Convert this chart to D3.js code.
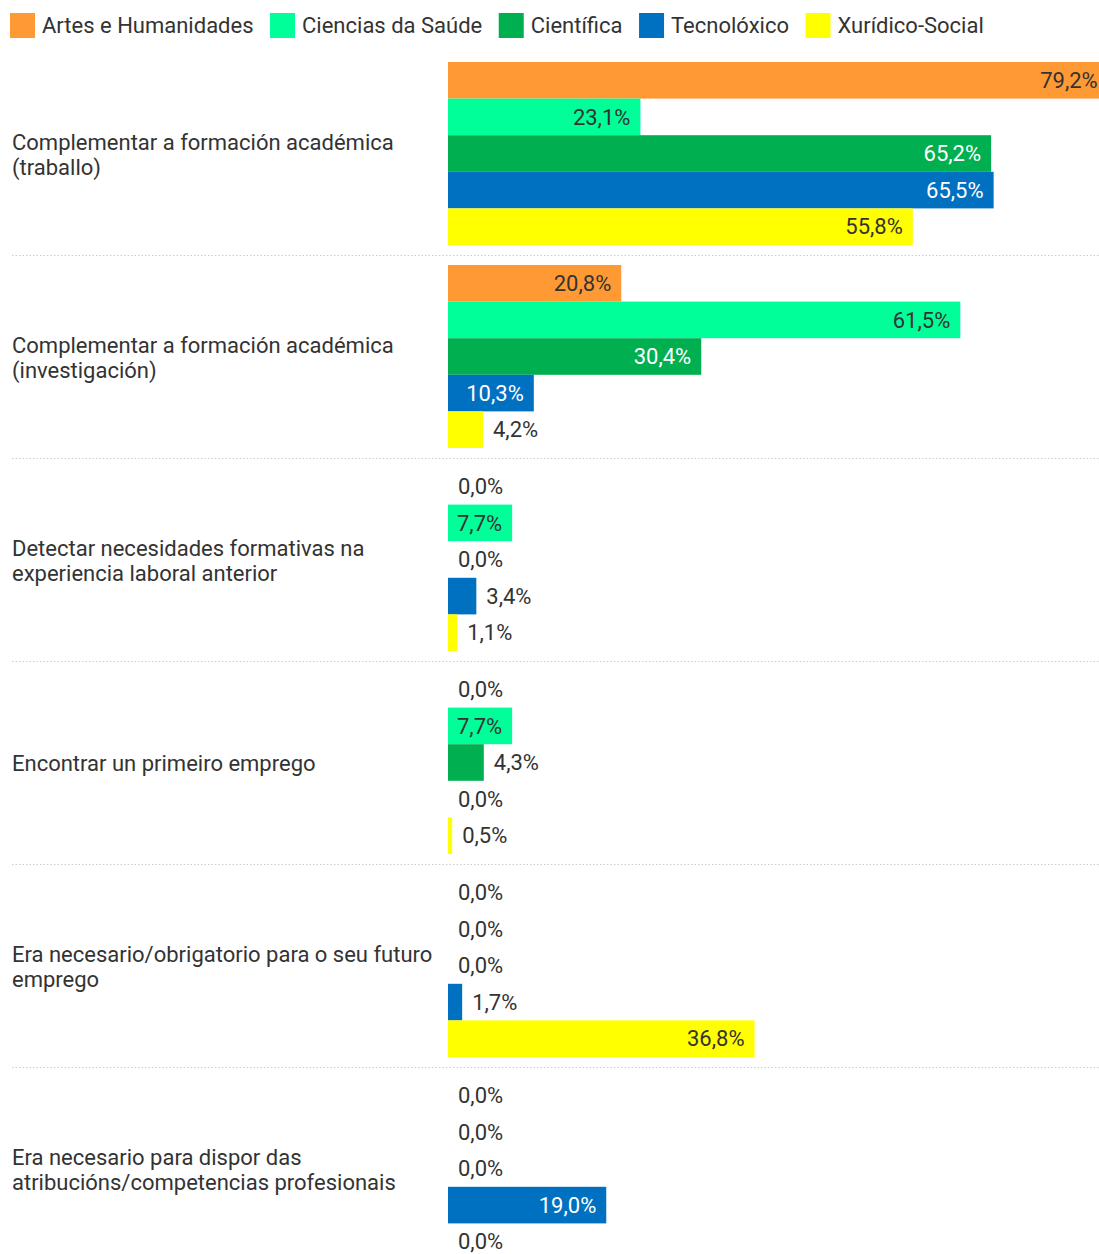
<!DOCTYPE html>
<html>
<head>
<meta charset="utf-8">
<script src="https://d3js.org/d3.v7.min.js"></script>
<style>
  html, body { margin: 0; padding: 0; background: #fff; }
  body { font-family: Roboto, "Noto Sans", sans-serif; }
  svg { display: block; }
</style>
</head>
<body>
<div id="chart"></div>
<script>
// categories (rows) and series (colours)
var categories = [
  "Complementar a formación académica (traballo)",
  "Complementar a formación académica (investigación)",
  "Detectar necesidades formativas na experiencia laboral anterior",
  "Encontrar un primeiro emprego",
  "Era necesario/obrigatorio para o seu futuro emprego",
  "Era necesario para dispor das atribucións/competencias profesionais"
];
var seriesNames = ["Artes e Humanidades", "Ciencias da Saúde", "Científica", "Tecnolóxico", "Xurídico-Social"];
var seriesColors = ["#ff9933", "#00ff99", "#00b050", "#0070c0", "#ffff00"];
var labelColors = ["#333333", "#333333", "#ffffff", "#ffffff", "#333333"];

// values in %, one array per series, same order as categories
var artes      = [79.2, 20.8, 0.0, 0.0, 0.0, 0.0];
var saude      = [23.1, 61.5, 7.7, 7.7, 0.0, 0.0];
var cientifica = [65.2, 30.4, 0.0, 4.3, 0.0, 0.0];
var tecno      = [65.5, 10.3, 3.4, 0.0, 1.7, 19.0];
var xuridico   = [55.8, 4.2, 1.1, 0.5, 36.8, 0.0];
var seriesValues = [artes, saude, cientifica, tecno, xuridico];

var W = 1099, H = 1254;
var top0 = 62, groupStep = 203, groupInner = 183;
var barX0 = 448;
var fs = "22px";

var svg = d3.select("#chart").append("svg")
  .attr("width", W)
  .attr("height", H);

var fmt = function(v) { return v.toFixed(1).replace(".", ",") + "%"; };

// scales
var x = d3.scaleLinear().domain([0, 100]).range([barX0, barX0 + 833]);
var yGroup = d3.scaleBand()
  .domain(categories)
  .range([top0, top0 + groupStep * categories.length])
  .paddingInner(0).paddingOuter(0);
var ySeries = d3.scaleBand().domain(seriesNames).range([0, groupInner]);

// legend
var legend = svg.append("g").attr("class", "legend");
var lx = 10;
seriesNames.forEach(function(name, i) {
  var item = legend.append("g").attr("transform", "translate(" + lx + ",0)");
  item.append("rect")
    .attr("x", 0).attr("y", 13)
    .attr("width", 25).attr("height", 25)
    .attr("fill", seriesColors[i]);
  var t = item.append("text")
    .attr("x", 32).attr("y", 25)
    .attr("dy", "0.35em")
    .style("font-size", fs)
    .attr("fill", "#333")
    .text(name);
  lx += 32 + t.node().getComputedTextLength() + 16.5;
});

// groups
var groups = svg.selectAll("g.group")
  .data(categories)
  .enter().append("g")
    .attr("class", "group")
    .attr("transform", function(d) { return "translate(0," + yGroup(d) + ")"; });

// separators between groups
groups.filter(function(d, i) { return i < categories.length - 1; })
  .append("line")
    .attr("x1", 12).attr("x2", W)
    .attr("y1", groupInner + 10.5).attr("y2", groupInner + 10.5)
    .attr("stroke", "#cccccc")
    .attr("stroke-width", 1)
    .attr("stroke-dasharray", "1.5,2");

// category labels with wrapping
groups.each(function(d) {
  var g = d3.select(this);
  var words = d.split(" ");
  var lines = [], line = [];
  var tmp = g.append("text").style("font-size", fs);
  words.forEach(function(w) {
    var test = line.concat([w]).join(" ");
    tmp.text(test);
    if (tmp.node().getComputedTextLength() > 425 && line.length) {
      lines.push(line.join(" "));
      line = [w];
    } else {
      line.push(w);
    }
  });
  lines.push(line.join(" "));
  tmp.remove();
  var lh = 25;
  var cy = groupInner / 2 - (lines.length - 1) * lh / 2 + 1;
  var t = g.append("text")
    .attr("fill", "#333")
    .style("font-size", fs);
  lines.forEach(function(l, k) {
    t.append("tspan")
      .attr("x", 12)
      .attr("y", cy + k * lh)
      .attr("dy", "0.35em")
      .text(l);
  });
});

// bars + value labels
groups.each(function(cat, ci) {
  var g = d3.select(this);
  var rows = seriesNames.map(function(s, si) {
    return { series: s, si: si, value: seriesValues[si][ci] };
  });
  g.selectAll("rect.bar")
    .data(rows)
    .enter().append("rect")
      .attr("class", "bar")
      .attr("x", x(0))
      .attr("y", function(d) { return ySeries(d.series); })
      .attr("width", function(d) { return x(d.value) - x(0); })
      .attr("height", ySeries.bandwidth())
      .attr("fill", function(d) { return seriesColors[d.si]; });

  g.selectAll("text.val")
    .data(rows)
    .enter().append("text")
      .attr("class", "val")
      .style("font-size", fs)
      .attr("y", function(d) { return ySeries(d.series) + ySeries.bandwidth() / 2; })
      .attr("dy", "0.35em")
      .text(function(d) { return fmt(d.value); })
      .each(function(d) {
        var t = d3.select(this);
        var tw = this.getComputedTextLength();
        var bw = x(d.value) - x(0);
        if (tw + 18 <= bw) {
          t.attr("x", x(d.value) - 10)
            .attr("text-anchor", "end")
            .attr("fill", labelColors[d.si]);
        } else {
          t.attr("x", x(d.value) + 10)
            .attr("text-anchor", "start")
            .attr("fill", "#333");
        }
      });
});
</script>
</body>
</html>
